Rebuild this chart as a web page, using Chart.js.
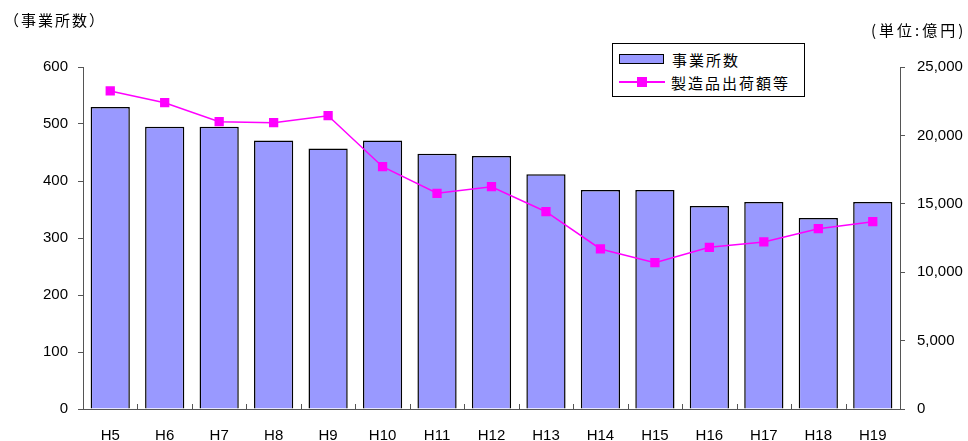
<!DOCTYPE html>
<html>
<head>
<meta charset="utf-8">
<script src="https://cdn.jsdelivr.net/npm/chart.js@4/dist/chart.umd.min.js"></script>
<style>
    html, body { margin: 0; padding: 0; background: #fff; }
    #wrap { position: relative; width: 968px; height: 441px; }
    .ttl { position: absolute; font-family: "Noto Sans CJK JP", sans-serif; font-size: 15px; color: #000; letter-spacing: 2px; }
    #legend {
        position: absolute; left: 612px; top: 43px; width: 191px; height: 52px;
        border: 1px solid #000; background: #fff;
        font-family: "Noto Sans CJK JP", sans-serif; font-size: 15px; letter-spacing: 2px;
    }
    .row { position: absolute; left: 6px; height: 20px; display: flex; align-items: center; }
    .sw-bar { width: 43px; height: 8px; background: #9999ff; border: 1.5px solid #000; margin-right: 8px; }
    .sw-line { width: 46px; height: 2px; background: #ff00ff; position: relative; margin-right: 6px; }
    .sw-line i { position: absolute; left: 18px; top: -4px; width: 10px; height: 10px; background: #ff00ff; }
</style>
</head>
<body>
<div id="wrap">
    <canvas id="c" width="968" height="441"></canvas>
    <div class="ttl" style="left:4px; top:9px;">（事業所数）</div>
    <div class="ttl" style="left:871px; top:19px; letter-spacing:3px;">(単位:億円)</div>
    <div id="legend">
        <div class="row" style="top:5px;"><span class="sw-bar"></span>事業所数</div>
        <div class="row" style="top:28px;"><span class="sw-line"><i></i></span>製造品出荷額等</div>
    </div>
</div>
<script>
// ------------------ DADOS ------------------
const years = ["H5", "H6", "H7", "H8", "H9", "H10", "H11", "H12", "H13", "H14", "H15", "H16", "H17", "H18", "H19"];
const establishments = [530, 495, 495, 471, 457, 471, 448, 444, 412, 384, 384, 356, 363, 335, 363];
const shipments = [23250, 22390, 21000, 20930, 21440, 17710, 15770, 16250, 14420, 11700, 10700, 11820, 12210, 13180, 13690];
const leftTicks = [0, 100, 200, 300, 400, 500, 600];
const rightTicks = [0, 5000, 10000, 15000, 20000, 25000];

const tickFont = { family: "Liberation Sans, Arial, sans-serif", size: 15 };

// pequenas marcas do eixo X voltadas para dentro
const innerTicks = {
    id: "innerTicks",
    afterDraw(chart) {
        const { ctx, scales } = chart;
        const x = scales.x;
        const n = years.length;
        const step = (x.right - x.left) / n;
        ctx.save();
        ctx.strokeStyle = "#555";
        ctx.lineWidth = 1;
        ctx.beginPath();
        for (let i = 1; i < n; i++) {
            const px = Math.round(x.left + i * step) + 0.5;
            ctx.moveTo(px, x.top);
            ctx.lineTo(px, x.top - 5);
        }
        ctx.stroke();
        ctx.restore();
    }
};

new Chart(document.getElementById("c"), {
    type: "bar",
    data: {
        labels: years,
        datasets: [
            {
                type: "line",
                label: "製造品出荷額等",
                data: shipments,
                yAxisID: "y2",
                borderColor: "#ff00ff",
                backgroundColor: "#ff00ff",
                borderWidth: 1.5,
                pointStyle: "rect",
                pointRadius: 5.5,
                pointHoverRadius: 5.5,
                tension: 0,
                order: 0
            },
            {
                label: "事業所数",
                data: establishments,
                yAxisID: "y",
                backgroundColor: "#9999ff",
                borderColor: "#000",
                borderWidth: 1.5,
                barPercentage: 0.72,
                categoryPercentage: 1,
                order: 1
            }
        ]
    },
    options: {
        responsive: false,
        animation: false,
        layout: { padding: { left: 0, right: 0, top: 67, bottom: 0 } },
        plugins: { legend: { display: false }, tooltip: { enabled: false } },
        scales: {
            x: {
                grid: { display: false },
                border: { display: true, color: "#555", width: 1 },
                ticks: { color: "#000", font: tickFont, padding: 10, maxRotation: 0 },
                afterFit: s => { s.height = 32; }
            },
            y: {
                position: "left",
                min: 0, max: 600,
                afterBuildTicks: s => { s.ticks = leftTicks.map(v => ({ value: v })); },
                grid: { drawOnChartArea: false, tickLength: 5, color: "#555" },
                border: { display: true, color: "#555", width: 1 },
                ticks: { color: "#000", font: tickFont, padding: 10 },
                afterFit: s => { s.width = 83; }
            },
            y2: {
                position: "right",
                min: 0, max: 25000,
                afterBuildTicks: s => { s.ticks = rightTicks.map(v => ({ value: v })); },
                grid: { drawOnChartArea: false, tickLength: 5, color: "#555" },
                border: { display: true, color: "#555", width: 1 },
                ticks: { color: "#000", font: tickFont, padding: 12, callback: v => v.toLocaleString("en-US") },
                afterFit: s => { s.width = 68; }
            }
        }
    },
    plugins: [innerTicks]
});
</script>
</body>
</html>
